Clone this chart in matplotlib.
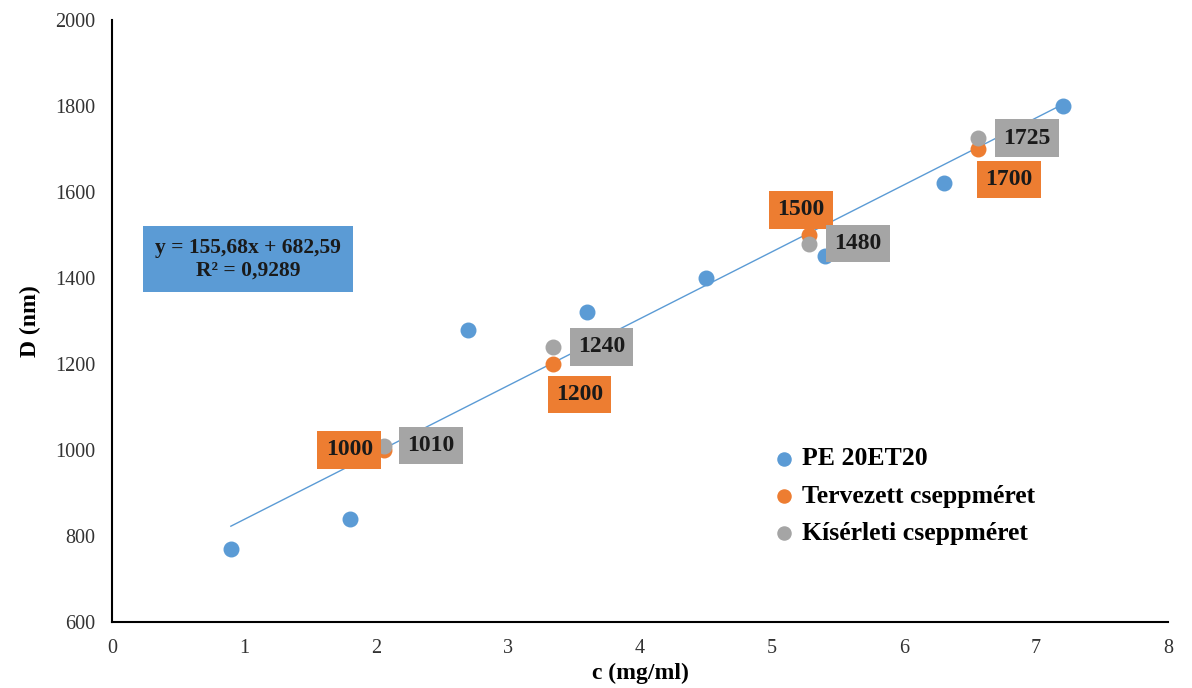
import numpy as np
import matplotlib
matplotlib.use("Agg")
import matplotlib.pyplot as plt

# data
c_pe = [0.9, 1.8, 2.7, 3.6, 4.5, 5.4, 6.3, 7.2]
d_pe = [770, 840, 1280, 1320, 1400, 1450, 1620, 1800]

c_drop = [2.06, 3.34, 5.28, 6.56]
d_plan = [1000, 1200, 1500, 1700]
d_exp = [1010, 1240, 1480, 1725]

slope, intercept = 155.68, 682.59
r2 = 0.9289

blue = "#5B9BD5"
orange = "#ED7D31"
gray = "#A5A5A5"

plt.rcParams['font.family'] = ['Liberation Serif', 'DejaVu Serif']

fig = plt.figure(figsize=(11.92, 6.88), dpi=100)
ax = fig.add_axes([0.094, 0.096, 0.886, 0.875])

# trendline
xt = np.array([c_pe[0], c_pe[-1]])
ax.plot(xt, slope * xt + intercept, color=blue, lw=1, zorder=1)

ax.scatter(c_pe, d_pe, s=110, color=blue, label="PE 20ET20", zorder=3)
ax.scatter(c_drop, d_plan, s=110, color=orange, label="Tervezett cseppméret", zorder=3)
ax.scatter(c_drop, d_exp, s=110, color=gray, label="Kísérleti cseppméret", zorder=4)

# data labels
plan_off = [(-25, 0), (19, -22), (-6, 18), (22, -22)]
exp_off = [(34, 0), (35, 0), (35, 0), (35, 0)]
for x, y, off in zip(c_drop, d_plan, plan_off):
    ax.annotate(str(y), (x, y), xytext=off, textcoords="offset points",
                ha="center", va="center", fontsize=17, fontweight="bold", color="#1a1a1a",
                bbox=dict(boxstyle="square,pad=0.35", fc=orange, ec="none"), zorder=5)
for x, y, off in zip(c_drop, d_exp, exp_off):
    ax.annotate(str(y), (x, y), xytext=off, textcoords="offset points",
                ha="center", va="center", fontsize=17, fontweight="bold", color="#1a1a1a",
                bbox=dict(boxstyle="square,pad=0.35", fc=gray, ec="none"), zorder=5)

# equation box
ax.text(1.03, 1444, "y = 155,68x + 682,59\nR² = 0,9289", ha="center", va="center",
        fontsize=15.5, fontweight="bold", color="#1a1a1a", linespacing=1.2,
        bbox=dict(boxstyle="square,pad=0.55", fc=blue, ec="none"))

ax.set_xlim(0, 8)
ax.set_ylim(600, 2000)
ax.set_xticks(range(0, 9))
ax.set_yticks(range(600, 2001, 200))
ax.tick_params(length=0, labelsize=14.5, pad=12, colors="#333333")
for s in ["top", "right"]:
    ax.spines[s].set_visible(False)
for s in ["left", "bottom"]:
    ax.spines[s].set_linewidth(1.5)
    ax.spines[s].set_color("black")

ax.set_xlabel("c (mg/ml)", fontsize=17, fontweight="bold", labelpad=4)
ax.set_ylabel("D (nm)", fontsize=17, fontweight="bold", labelpad=10)

ax.legend(loc="lower left", bbox_to_anchor=(0.6, 0.09), frameon=False,
          prop={'size': 18.5, 'weight': 'bold'}, handletextpad=0.1, labelspacing=0.55,
          markerscale=0.9, handlelength=1.2)

fig.savefig("out.png", dpi=100)
